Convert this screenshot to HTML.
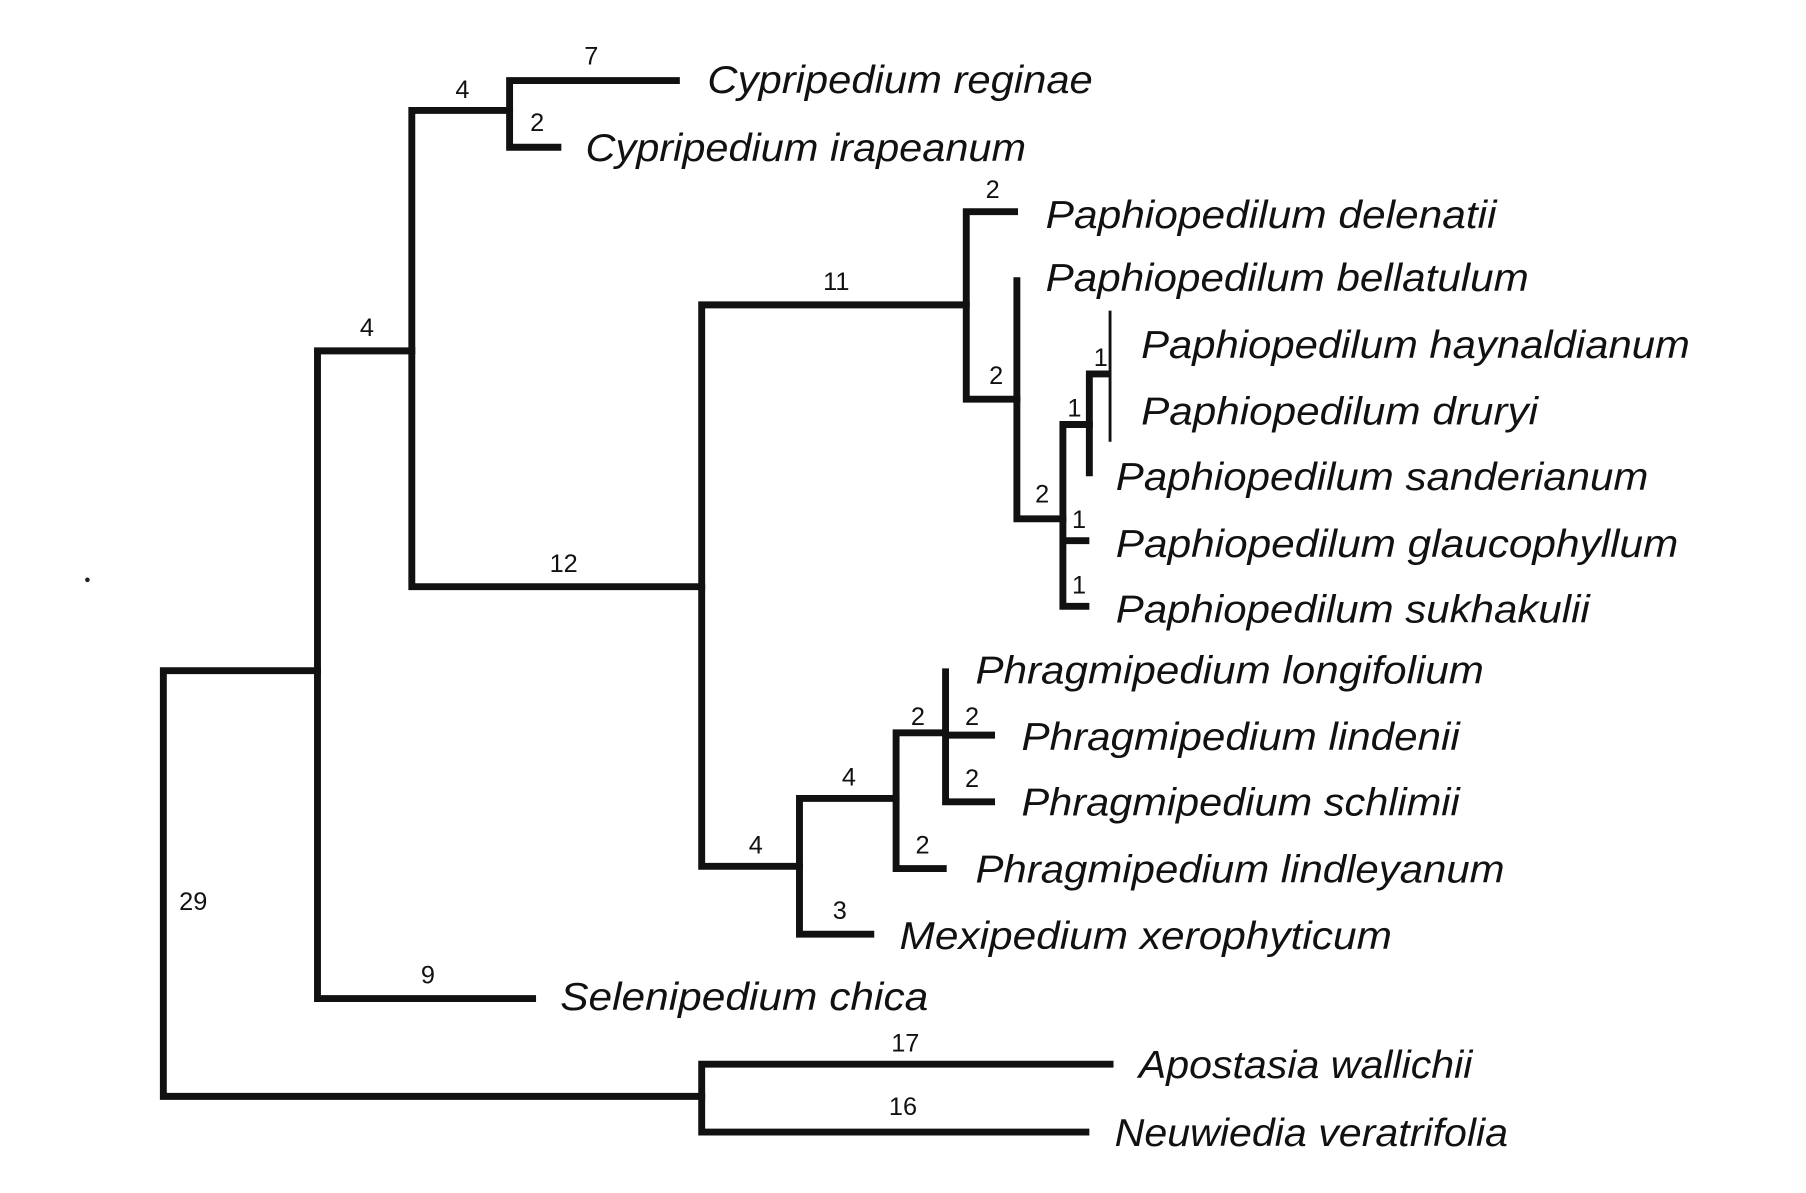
<!DOCTYPE html>
<html><head><meta charset="utf-8"><style>html,body{margin:0;padding:0;background:#fff}svg{display:block}</style></head>
<body>
<svg width="1806" height="1193" viewBox="0 0 1570 1037" preserveAspectRatio="none" xmlns="http://www.w3.org/2000/svg">
<g stroke="#111" stroke-width="6" fill="none" stroke-linecap="square">
<path d="M142 583V953M142 583H276M142 953H610"/>
<path d="M610 925V984M610 925H965M610 984H944"/>
<path d="M276 305V868M276 305H358M276 868H463"/>
<path d="M358 96V510M358 96H443M358 510H610"/>
<path d="M443 70V128M443 70H588M443 128H485"/>
<path d="M610 265V753M610 265H840M610 753H695"/>
<path d="M840 184V347M840 184H882M840 347H884"/>
<path d="M884 244V451M884 451H924"/>
<path d="M924 369V527M924 369H947M924 470H944M924 527H944"/>
<path d="M947 325V411M947 325H963"/>
<path d="M695 694V812M695 694H779M695 812H757"/>
<path d="M779 637V755M779 637H822M779 755H820"/>
<path d="M822 584V697M822 639H862M822 697H862"/>
</g>
<path d="M965 270V384" stroke="#111" stroke-width="2.5"/>
<g font-family="Liberation Sans, sans-serif" font-size="22" fill="#111" text-anchor="middle">
<text x="514" y="56">7</text><text x="402" y="85">4</text><text x="467" y="114">2</text>
<text x="319" y="292">4</text><text x="490" y="497">12</text><text x="727" y="252">11</text>
<text x="863" y="172">2</text><text x="866" y="334">2</text><text x="906" y="437">2</text>
<text x="934" y="362">1</text><text x="957" y="318">1</text><text x="938" y="459">1</text><text x="938" y="516">1</text>
<text x="798" y="630">2</text><text x="845" y="630">2</text><text x="845" y="684">2</text>
<text x="802" y="742">2</text><text x="738" y="683">4</text><text x="657" y="742">4</text>
<text x="730" y="799">3</text><text x="372" y="855">9</text><text x="168" y="791">29</text>
<text x="787" y="914">17</text><text x="785" y="969">16</text>
</g>
<g font-family="Liberation Sans, sans-serif" font-style="italic" font-size="34" fill="#111">
<text x="615" y="81" textLength="335" lengthAdjust="spacingAndGlyphs">Cypripedium reginae</text>
<text x="509" y="140" textLength="383" lengthAdjust="spacingAndGlyphs">Cypripedium irapeanum</text>
<text x="909" y="198" textLength="392" lengthAdjust="spacingAndGlyphs">Paphiopedilum delenatii</text>
<text x="909" y="253" textLength="420" lengthAdjust="spacingAndGlyphs">Paphiopedilum bellatulum</text>
<text x="992" y="311" textLength="477" lengthAdjust="spacingAndGlyphs">Paphiopedilum haynaldianum</text>
<text x="992" y="369" textLength="345" lengthAdjust="spacingAndGlyphs">Paphiopedilum druryi</text>
<text x="970" y="426" textLength="463" lengthAdjust="spacingAndGlyphs">Paphiopedilum sanderianum</text>
<text x="970" y="484" textLength="489" lengthAdjust="spacingAndGlyphs">Paphiopedilum glaucophyllum</text>
<text x="970" y="541" textLength="412" lengthAdjust="spacingAndGlyphs">Paphiopedilum sukhakulii</text>
<text x="848" y="594" textLength="442" lengthAdjust="spacingAndGlyphs">Phragmipedium longifolium</text>
<text x="888" y="652" textLength="381" lengthAdjust="spacingAndGlyphs">Phragmipedium lindenii</text>
<text x="888" y="709" textLength="381" lengthAdjust="spacingAndGlyphs">Phragmipedium schlimii</text>
<text x="848" y="767" textLength="460" lengthAdjust="spacingAndGlyphs">Phragmipedium lindleyanum</text>
<text x="782" y="825" textLength="428" lengthAdjust="spacingAndGlyphs">Mexipedium xerophyticum</text>
<text x="487" y="878" textLength="320" lengthAdjust="spacingAndGlyphs">Selenipedium chica</text>
<text x="990" y="937" textLength="290" lengthAdjust="spacingAndGlyphs">Apostasia wallichii</text>
<text x="969" y="996" textLength="342" lengthAdjust="spacingAndGlyphs">Neuwiedia veratrifolia</text>
</g>
<circle cx="76" cy="504" r="2" fill="#222"/>
</svg>
</body></html>
